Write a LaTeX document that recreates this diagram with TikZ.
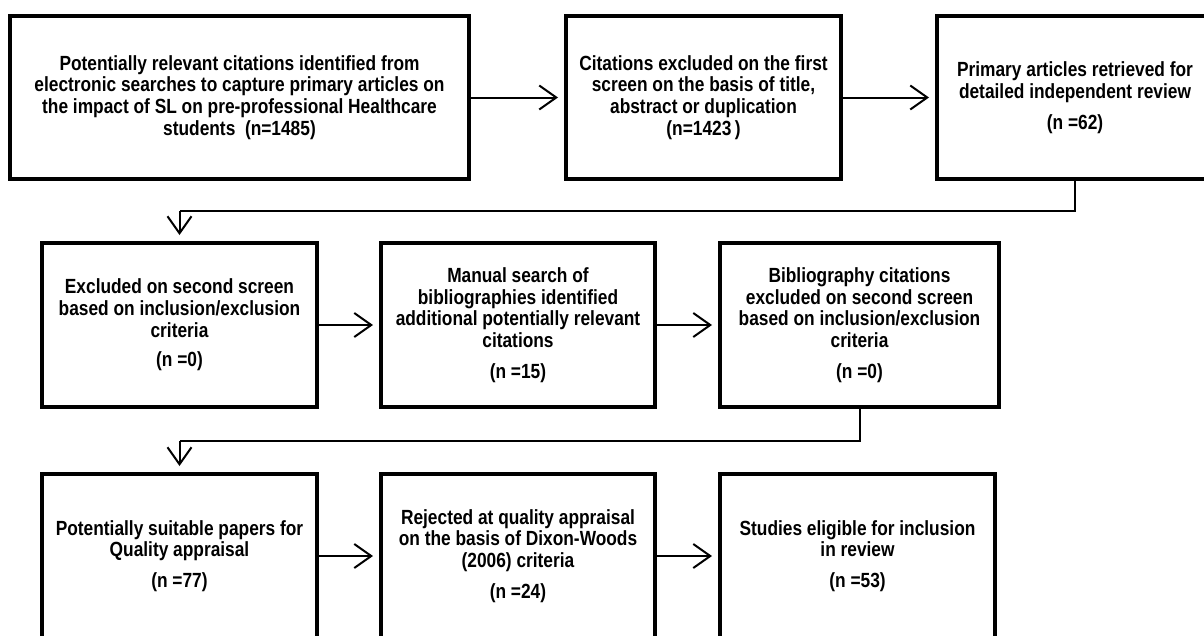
\documentclass[tikz,border=0pt]{standalone}
\usepackage{fontspec}
\setmainfont{Liberation Sans}[FakeStretch=0.845]
\usetikzlibrary{arrows.meta}
\begin{document}
\begin{tikzpicture}[x=1pt,y=-1pt,
  box/.style={draw, line width=4pt, font=\bfseries\fontsize{20.5}{21.7}\selectfont,
    align=center, inner sep=0pt, anchor=center},
  arr/.style={line width=2pt, shorten >=6pt,
    -{Straight Barb[length=17pt,width=24pt,line width=2pt]}},
  link/.style={line width=2pt, line join=miter}]
\useasboundingbox (0,0) rectangle (1204,635);
\fill[white] (0,0) rectangle (1204,635);
\clip (0,0) rectangle (1204,635);
% row 1
\node[box, minimum width=459pt, minimum height=163pt] (b1) at (239.5,97.5)
  {Potentially relevant citations identified from\\ electronic searches to capture primary articles on\\ the impact of SL on pre-professional Healthcare\\ students~~(n=1485)};
\node[box, minimum width=275pt, minimum height=163pt] (b2) at (703.5,97.5)
  {Citations excluded on the first\\ screen on the basis of title,\\ abstract or duplication\\ (n=1423\,)};
\node[box, minimum width=276pt, minimum height=163pt] (b3) at (1075,97.5)
  {Primary articles retrieved for\\ detailed independent review\\[9pt] (n =62)};
% row 2
\node[box, minimum width=275pt, minimum height=164pt] (b4) at (179.5,325)
  {Excluded on second screen\\ based on inclusion/exclusion\\ criteria\\[8pt] (n =0)};
\node[box, minimum width=274pt, minimum height=164pt] (b5) at (518,325)
  {Manual search of\\ bibliographies identified\\ additional potentially relevant\\ citations\\[9pt] (n =15)};
\node[box, minimum width=279pt, minimum height=164pt] (b6) at (859.5,325)
  {Bibliography citations\\ excluded on second screen\\ based on inclusion/exclusion\\ criteria\\[9pt] (n =0)};
% row 3
\node[box, minimum width=275pt, minimum height=164pt] (b7) at (179.5,556)
  {Potentially suitable papers for\\ Quality appraisal\\[9pt] (n =77)};
\node[box, minimum width=274pt, minimum height=164pt] (b8) at (518,556)
  {Rejected at quality appraisal\\ on the basis of Dixon-Woods\\ (2006) criteria\\[9pt] (n =24)};
\node[box, minimum width=275pt, minimum height=164pt] (b9) at (857.5,556)
  {Studies eligible for inclusion\\ in review\\[9pt] (n =53)};
% horizontal arrows
\draw[arr] (b1) -- (b2);
\draw[arr] (b2) -- (b3);
\draw[arr] (b4) -- (b5);
\draw[arr] (b5) -- (b6);
\draw[arr] (b7) -- (b8);
\draw[arr] (b8) -- (b9);
% elbow connectors
\path (b4.north) ++(0,-30) coordinate (k1);
\path (b7.north) ++(0,-31) coordinate (k2);
\draw[link] (b3.south) |- (k1);
\draw[arr] (k1) -- (b4.north);
\draw[link] (b6.south) |- (k2);
\draw[arr] (k2) -- (b7.north);
\end{tikzpicture}
\end{document}
